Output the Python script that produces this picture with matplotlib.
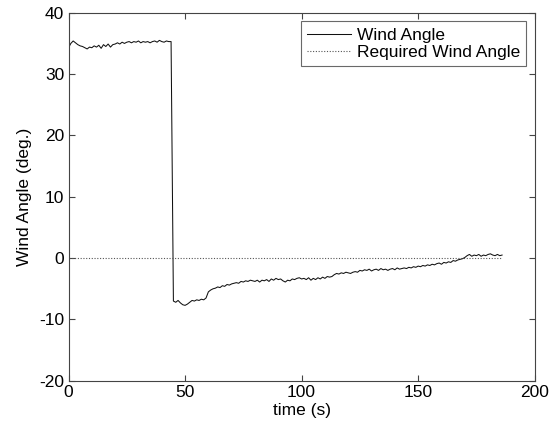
import numpy as np
import matplotlib
matplotlib.use('Agg')
import matplotlib.pyplot as plt

plt.rcParams['font.family'] = ['Liberation Sans', 'DejaVu Sans']
plt.rcParams['axes.unicode_minus'] = False

# wind angle (deg.), one sample per second
angle_before = [34.3, 35.0, 35.4, 35.1, 34.8, 34.6, 34.5, 34.3, 34.1, 34.4,
                34.3, 34.6, 34.4, 34.7, 34.2, 34.8, 34.5, 34.9, 34.4, 34.8,
                34.9, 35.1, 34.9, 35.2, 35.0, 35.2, 35.3, 35.1, 35.3, 35.2,
                35.4, 35.1, 35.3, 35.2, 35.3, 35.1, 35.3, 35.4, 35.2, 35.5,
                35.3, 35.2, 35.4, 35.3, 35.3]
angle_after = [-7.0, -7.2, -6.9, -7.3, -7.6, -7.7, -7.5, -7.2, -6.9, -7.0,
               -6.8, -6.9, -6.7, -6.8, -6.5, -5.5, -5.2, -5.0, -4.9, -4.7,
               -4.8, -4.5, -4.6, -4.3, -4.4, -4.2, -4.1, -4.0, -4.1, -3.8,
               -3.9, -3.7, -3.8, -3.6, -3.7, -3.8, -3.6, -3.9, -3.6, -3.7,
               -3.5, -3.8, -3.4, -3.6, -3.3, -3.5, -3.4, -3.7, -3.9, -3.6,
               -3.7, -3.4, -3.5, -3.3, -3.2, -3.4, -3.3, -3.5, -3.2, -3.6,
               -3.3, -3.5, -3.2, -3.4, -3.1, -3.3, -3.0, -3.1, -3.0, -2.7,
               -2.5, -2.6, -2.4, -2.5, -2.3, -2.4, -2.5, -2.3, -2.2, -2.3,
               -2.0, -2.1, -1.9, -2.0, -1.8, -2.1, -1.9, -1.8, -2.0, -1.7,
               -1.9, -1.8, -2.0, -1.8, -1.7, -1.9, -1.6, -1.8, -1.7, -1.6,
               -1.7, -1.5, -1.6, -1.4, -1.5, -1.3, -1.4, -1.2, -1.3, -1.1,
               -1.2, -1.0, -1.1, -0.9, -0.8, -1.0, -0.7, -0.8, -0.6, -0.7,
               -0.4, -0.5, -0.3, -0.2, -0.1, 0.1, 0.4, 0.6, 0.3, 0.5,
               0.4, 0.6, 0.3, 0.5, 0.4, 0.6, 0.7, 0.5, 0.4, 0.6,
               0.4, 0.5]
angle = np.array(angle_before + angle_after)
t = np.arange(len(angle))
required = np.zeros(len(angle))

fig = plt.figure(figsize=(5.57, 4.25), dpi=100)
ax = fig.add_axes([0.123, 0.104, 0.837, 0.866])

ax.plot(t, angle, color='#111111', lw=0.75, label='Wind Angle')
ax.plot(t, required, color='#555555', lw=0.8, ls=(0, (1, 1.5)), label='Required Wind Angle')

ax.set_xlim(0, 200)
ax.set_ylim(-20, 40)
ax.set_xticks([0, 50, 100, 150, 200])
ax.set_yticks([-20, -10, 0, 10, 20, 30, 40])
ax.tick_params(direction='in', top=True, right=True, length=4, labelsize=12.5,
               color='#444444', pad=3)
for s in ax.spines.values():
    s.set_color('#444444')
ax.set_xlabel('time (s)', fontsize=12.5, labelpad=2)
ax.set_ylabel('Wind Angle (deg.)', fontsize=12.5, labelpad=5)

leg = ax.legend(loc='upper right', fontsize=12.5, handlelength=2.5, fancybox=False,
                edgecolor='#444444', borderaxespad=0.5, borderpad=0.35,
                labelspacing=0.15, handletextpad=0.35)
leg.get_frame().set_linewidth(0.8)

fig.savefig('out.png', dpi=100)
